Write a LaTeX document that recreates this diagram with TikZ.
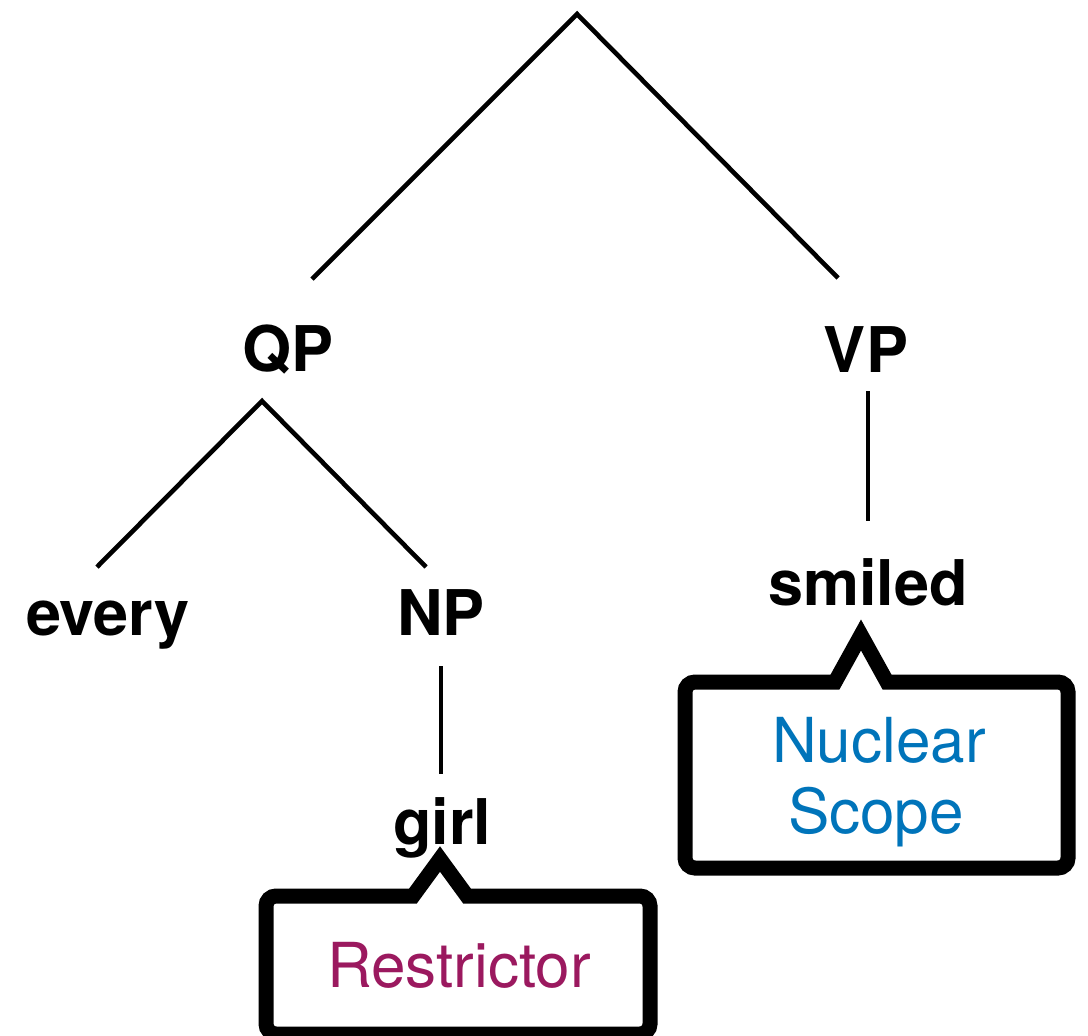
\documentclass[tikz,border=0pt]{standalone}
\usepackage{fontspec}
\setmainfont{TeX Gyre Heros}
\usetikzlibrary{positioning,calc}
\definecolor{restrictorpurple}{RGB}{155,25,95}
\definecolor{scopeblue}{RGB}{0,116,186}
\tikzset{every picture/.style={line width=2pt}}

\begin{document}
\begin{tikzpicture}[x=0.5pt,y=-0.5pt,
    cat/.style={anchor=base,inner sep=0pt,font=\fontsize{31.5}{36}\selectfont\bfseries},
    branch/.style={line width=2.3pt},
    callout/.style={line width=7.5pt,line join=miter},
    calltext/.style={anchor=base,inner sep=0pt,font=\fontsize{31}{36}\selectfont}]
    \useasboundingbox (0,0) rectangle (1088,1035);
    \clip (0,0) rectangle (1088,1035);

    % tree labels
    \node[cat] (qp) at (288,371) {QP};
    \node[cat] (vp) at (866,372) {VP};
    \node[cat] (every) at (108,635) {every};
    \node[cat] (np) at (441,635) {NP};
    \node[cat] (girl) at (442,844) {girl};
    \node[cat] (smiled) at (868,605) {smiled};

    % branch points
    \coordinate (root) at (577,14);
    \coordinate (root-l) at (312,279);
    \coordinate (root-r) at (838,278);
    \coordinate (qp-top) at (262,401);
    \coordinate (qp-l) at (97,567);
    \coordinate (qp-r) at (426,567);
    \coordinate (np-top) at (441,666);
    \coordinate (np-bot) at (441,774);
    \coordinate (vp-top) at (868,391);
    \coordinate (vp-bot) at (868,521);

    % branches
    \draw[branch] (root-l) -- (root) -- (root-r);
    \draw[branch] (qp-l) -- (qp-top) -- (qp-r);
    \draw[branch] (np-top) -- (np-bot);
    \draw[branch] (vp-top) -- (vp-bot);

    % restrictor callout
    \draw[callout] (413,896) -- (440,859) -- (467,896) -- (480,896)
        [rounded corners=5pt] -- (650,896) -- (650,1034) -- (266,1034)
        -- (266,896) -- (400,896) [sharp corners] -- cycle;
    \node[calltext,text=restrictorpurple] (restr) at (459,987) {Restrictor};

    % nuclear scope callout
    \draw[callout] (835,682) -- (861,635) -- (887,682) -- (900,682)
        [rounded corners=5pt] -- (1068,682) -- (1068,868) -- (685,868)
        -- (685,682) -- (820,682) [sharp corners] -- cycle;
    \node[calltext,text=scopeblue] (nuc) at (879,762) {Nuclear};
    \node[calltext,text=scopeblue] (scope) at (876,833) {Scope};
\end{tikzpicture}
\end{document}
